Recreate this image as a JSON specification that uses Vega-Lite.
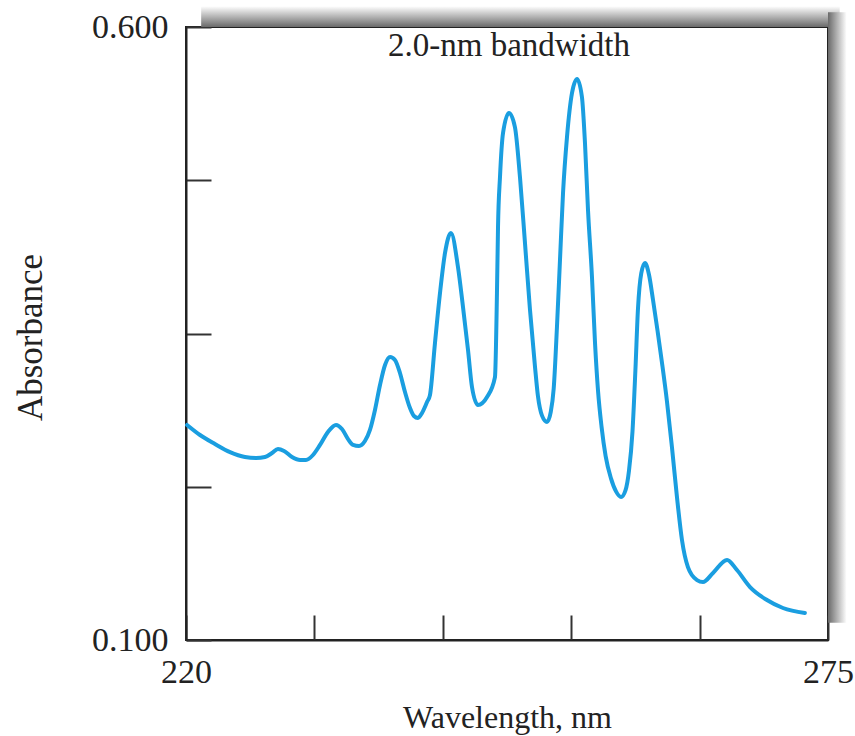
{
  "$schema": "https://vega.github.io/schema/vega-lite/v6.json",
  "width": 642,
  "height": 613,
  "autosize": {"type": "none"},
  "padding": {"left": 186, "top": 27, "right": 27, "bottom": 96},
  "background": "white",
  "config": {"view": {"stroke": "#222", "strokeWidth": 2}, "font": "Liberation Serif"},
  "layer": [
    {
      "data": {"values": [{"part": "top shadow"}]},
      "mark": {"type": "rect", "fill": {"gradient": "linear", "x1": 0, "y1": 0, "x2": 0, "y2": 1, "stops": [{"offset": 0, "color": "#ffffff"}, {"offset": 1, "color": "#6a6a6a"}]}},
      "encoding": {"x": {"datum": 221.3}, "x2": {"datum": 276.0}, "y": {"datum": 0.6}, "y2": {"datum": 0.617}}
    },
    {
      "data": {"values": [{"part": "right shadow"}]},
      "mark": {"type": "rect", "fill": {"gradient": "linear", "x1": 0, "y1": 0, "x2": 1, "y2": 0, "stops": [{"offset": 0, "color": "#6a6a6a"}, {"offset": 1, "color": "#ffffff"}]}},
      "encoding": {"x": {"datum": 275.0}, "x2": {"datum": 276.6}, "y": {"datum": 0.114}, "y2": {"datum": 0.612}}
    },
    {
      "data": {"values": [
        {"wavelength": 220.09, "absorbance": 0.2754},
        {"wavelength": 221.20, "absorbance": 0.2672},
        {"wavelength": 222.48, "absorbance": 0.2599},
        {"wavelength": 223.77, "absorbance": 0.2533},
        {"wavelength": 225.05, "absorbance": 0.2493},
        {"wavelength": 226.00, "absorbance": 0.2485},
        {"wavelength": 226.77, "absorbance": 0.2493},
        {"wavelength": 227.37, "absorbance": 0.2525},
        {"wavelength": 227.88, "absorbance": 0.2558},
        {"wavelength": 228.40, "absorbance": 0.2542},
        {"wavelength": 229.08, "absorbance": 0.2493},
        {"wavelength": 229.77, "absorbance": 0.2468},
        {"wavelength": 230.28, "absorbance": 0.2468},
        {"wavelength": 230.88, "absorbance": 0.2509},
        {"wavelength": 231.48, "absorbance": 0.2591},
        {"wavelength": 232.16, "absorbance": 0.2697},
        {"wavelength": 232.85, "absorbance": 0.2754},
        {"wavelength": 233.36, "absorbance": 0.2721},
        {"wavelength": 233.88, "absorbance": 0.2639},
        {"wavelength": 234.31, "absorbance": 0.2591},
        {"wavelength": 234.82, "absorbance": 0.2582},
        {"wavelength": 235.33, "absorbance": 0.2623},
        {"wavelength": 235.76, "absorbance": 0.2713},
        {"wavelength": 236.19, "absorbance": 0.2876},
        {"wavelength": 236.62, "absorbance": 0.3080},
        {"wavelength": 237.05, "absorbance": 0.3243},
        {"wavelength": 237.48, "absorbance": 0.3308},
        {"wavelength": 237.90, "absorbance": 0.3284},
        {"wavelength": 238.33, "absorbance": 0.3178},
        {"wavelength": 238.76, "absorbance": 0.3023},
        {"wavelength": 239.19, "absorbance": 0.2892},
        {"wavelength": 239.53, "absorbance": 0.2827},
        {"wavelength": 239.87, "absorbance": 0.2811},
        {"wavelength": 240.22, "absorbance": 0.2852},
        {"wavelength": 240.65, "absorbance": 0.2941},
        {"wavelength": 240.90, "absorbance": 0.2998},
        {"wavelength": 241.33, "absorbance": 0.3423},
        {"wavelength": 241.76, "absorbance": 0.3830},
        {"wavelength": 242.19, "absorbance": 0.4157},
        {"wavelength": 242.70, "absorbance": 0.4320},
        {"wavelength": 243.30, "absorbance": 0.4042},
        {"wavelength": 243.73, "absorbance": 0.3716},
        {"wavelength": 244.16, "absorbance": 0.3365},
        {"wavelength": 244.50, "absorbance": 0.3064},
        {"wavelength": 245.01, "absorbance": 0.2917},
        {"wavelength": 245.79, "absorbance": 0.2982},
        {"wavelength": 246.47, "absorbance": 0.3145},
        {"wavelength": 246.64, "absorbance": 0.3830},
        {"wavelength": 246.73, "absorbance": 0.4369},
        {"wavelength": 246.90, "absorbance": 0.4777},
        {"wavelength": 247.16, "absorbance": 0.5135},
        {"wavelength": 247.67, "absorbance": 0.5299},
        {"wavelength": 248.18, "absorbance": 0.5184},
        {"wavelength": 248.61, "absorbance": 0.4777},
        {"wavelength": 249.04, "absorbance": 0.4238},
        {"wavelength": 249.47, "absorbance": 0.3692},
        {"wavelength": 249.90, "absorbance": 0.3227},
        {"wavelength": 250.15, "absorbance": 0.2990},
        {"wavelength": 250.50, "absorbance": 0.2830},
        {"wavelength": 250.93, "absorbance": 0.2778},
        {"wavelength": 251.25, "absorbance": 0.2860},
        {"wavelength": 251.50, "absorbance": 0.3050},
        {"wavelength": 251.78, "absorbance": 0.3553},
        {"wavelength": 252.04, "absorbance": 0.4100},
        {"wavelength": 252.30, "absorbance": 0.4646},
        {"wavelength": 252.64, "absorbance": 0.5103},
        {"wavelength": 253.07, "absorbance": 0.5462},
        {"wavelength": 253.50, "absorbance": 0.5576},
        {"wavelength": 253.92, "absorbance": 0.5429},
        {"wavelength": 254.18, "absorbance": 0.5054},
        {"wavelength": 254.44, "absorbance": 0.4507},
        {"wavelength": 254.78, "absorbance": 0.3961},
        {"wavelength": 255.04, "absorbance": 0.3423},
        {"wavelength": 255.30, "absorbance": 0.3030},
        {"wavelength": 255.60, "absorbance": 0.2740},
        {"wavelength": 255.95, "absorbance": 0.2500},
        {"wavelength": 256.40, "absorbance": 0.2320},
        {"wavelength": 256.85, "absorbance": 0.2210},
        {"wavelength": 257.27, "absorbance": 0.2166},
        {"wavelength": 257.65, "absorbance": 0.2220},
        {"wavelength": 257.95, "absorbance": 0.2380},
        {"wavelength": 258.25, "absorbance": 0.2700},
        {"wavelength": 258.50, "absorbance": 0.3200},
        {"wavelength": 258.72, "absorbance": 0.3700},
        {"wavelength": 259.00, "absorbance": 0.3990},
        {"wavelength": 259.32, "absorbance": 0.4075},
        {"wavelength": 259.67, "absorbance": 0.3977},
        {"wavelength": 260.01, "absorbance": 0.3773},
        {"wavelength": 260.40, "absorbance": 0.3520},
        {"wavelength": 260.78, "absorbance": 0.3260},
        {"wavelength": 261.20, "absorbance": 0.2950},
        {"wavelength": 261.63, "absorbance": 0.2574},
        {"wavelength": 262.06, "absorbance": 0.2166},
        {"wavelength": 262.49, "absorbance": 0.1816},
        {"wavelength": 263.00, "absorbance": 0.1595},
        {"wavelength": 263.78, "absorbance": 0.1489},
        {"wavelength": 264.29, "absorbance": 0.1473},
        {"wavelength": 265.15, "absorbance": 0.1547},
        {"wavelength": 266.35, "absorbance": 0.1653},
        {"wavelength": 267.20, "absorbance": 0.1571},
        {"wavelength": 268.32, "absorbance": 0.1432},
        {"wavelength": 269.77, "absorbance": 0.1326},
        {"wavelength": 271.14, "absorbance": 0.1261},
        {"wavelength": 273.02, "absorbance": 0.1220}
      ]},
      "mark": {"type": "line", "interpolate": "monotone", "color": "#1a9ee0", "strokeWidth": 4, "strokeCap": "round", "strokeJoin": "round"},
      "encoding": {
        "x": {
          "field": "wavelength", "type": "quantitative",
          "scale": {"domain": [220, 275], "nice": false, "zero": false},
          "axis": {
            "title": "Wavelength, nm",
            "values": [220, 231, 242, 253, 264, 275],
            "labelExpr": "datum.value == 220 || datum.value == 275 ? datum.label : ''",
            "format": "d",
            "grid": false,
            "tickSize": -25, "tickWidth": 2, "tickColor": "#333",
            "domainColor": "#222", "domainWidth": 2,
            "labelPadding": 40, "labelFontSize": 34, "labelColor": "#222", "labelFont": "Liberation Serif",
            "labelFlush": false, "labelOverlap": false,
            "titleFontSize": 32, "titleFont": "Liberation Serif", "titleFontWeight": "normal", "titleColor": "#222",
            "titleY": 87, "titleBaseline": "alphabetic"
          }
        },
        "y": {
          "field": "absorbance", "type": "quantitative",
          "scale": {"domain": [0.1, 0.6], "nice": false, "zero": false},
          "axis": {
            "title": "Absorbance",
            "values": [0.1, 0.225, 0.35, 0.475, 0.6],
            "labelExpr": "datum.value == 0.1 || datum.value == 0.6 ? format(datum.value, '.3f') : ''",
            "grid": false,
            "tickSize": -25, "tickWidth": 2, "tickColor": "#333",
            "domainColor": "#222", "domainWidth": 2,
            "labelPadding": 43, "labelFontSize": 34, "labelColor": "#222", "labelFont": "Liberation Serif",
            "labelFlush": false, "labelOverlap": false,
            "titleFontSize": 35, "titleFont": "Liberation Serif", "titleFontWeight": "normal", "titleColor": "#222",
            "titleX": -156, "titleY": 310, "titleBaseline": "middle"
          }
        }
      }
    },
    {
      "data": {"values": [{"label": "2.0-nm bandwidth"}]},
      "mark": {"type": "text", "font": "Liberation Serif", "fontSize": 33, "baseline": "alphabetic", "align": "center", "color": "#222"},
      "encoding": {"x": {"datum": 247.67}, "y": {"datum": 0.5763}, "text": {"field": "label"}}
    }
  ]
}
